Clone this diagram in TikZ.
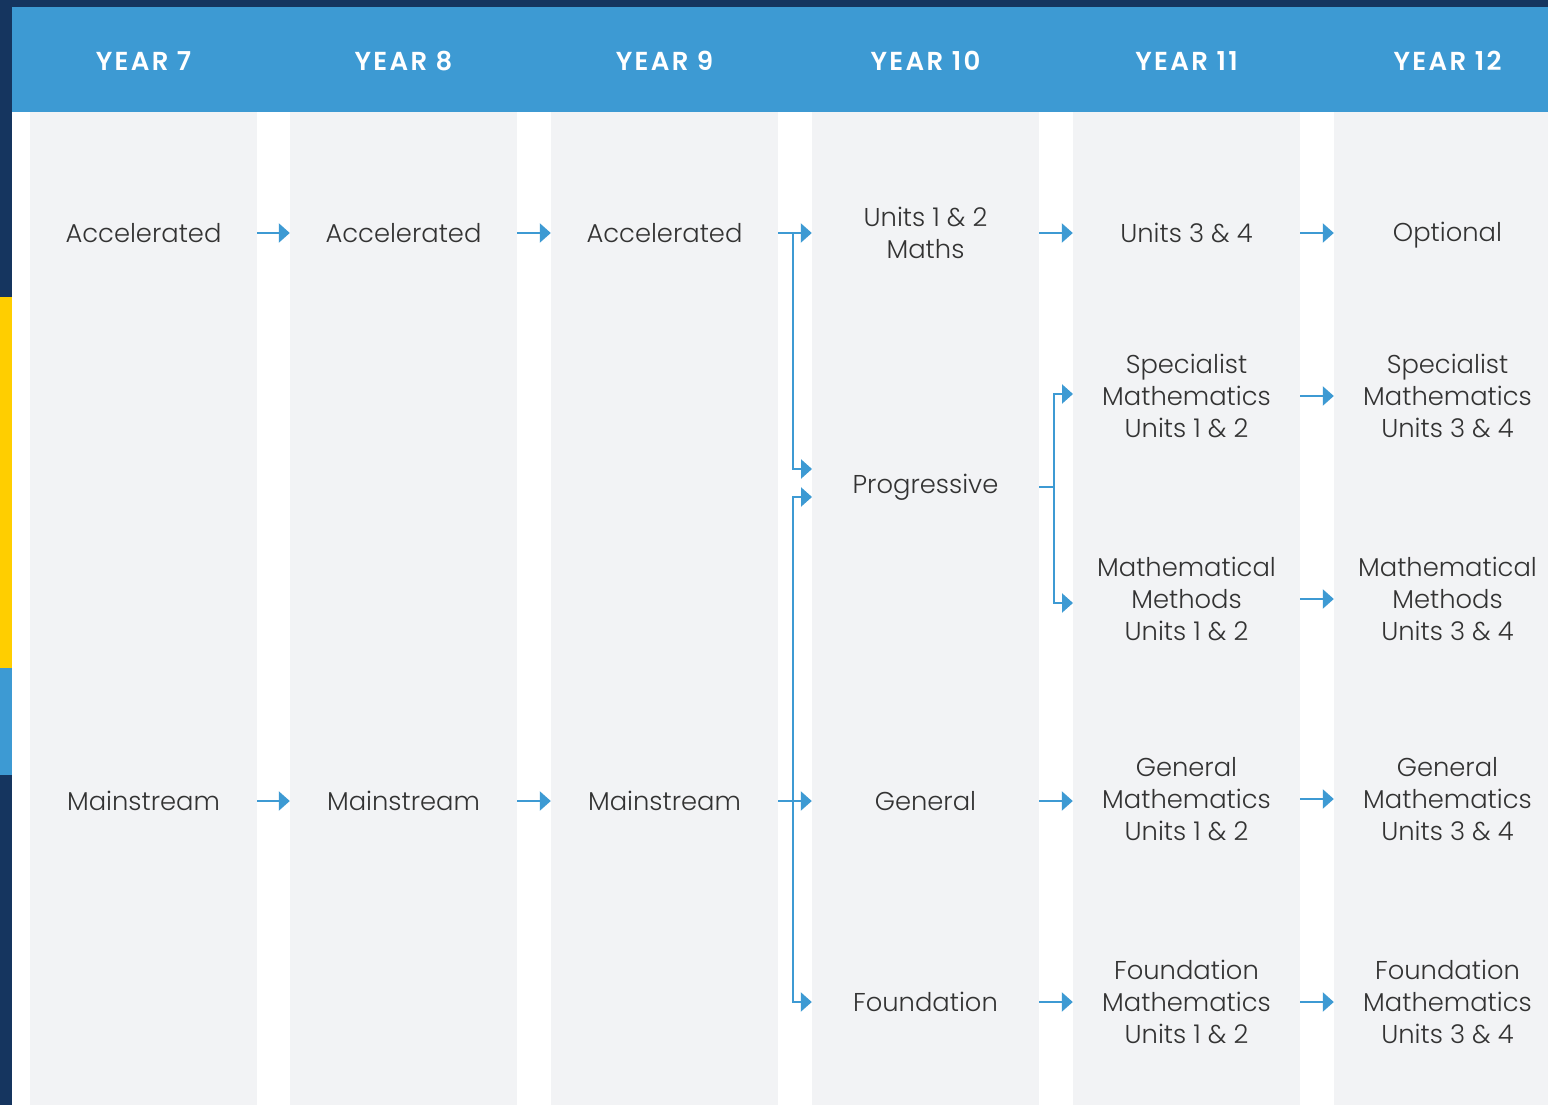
\documentclass[tikz,border=0pt]{standalone}
\usepackage{fontspec}
\setmainfont{Poppins}[UprightFont=*-Light,BoldFont=*-SemiBold]
\newfontfamily\headfont{Poppins}[UprightFont=*-SemiBold,LetterSpace=9]
\usetikzlibrary{arrows.meta}
\definecolor{navy}{HTML}{15355F}
\definecolor{skyblue}{HTML}{3D9AD3}
\definecolor{gold}{HTML}{FFCE00}
\definecolor{colgray}{HTML}{F2F3F5}
\definecolor{txtgray}{HTML}{333333}

\begin{document}
\begin{tikzpicture}[x=1pt,y=-1pt,
	col/.style={fill=colgray,minimum width=227pt,minimum height=993pt,inner sep=0pt,anchor=north},
	head/.style={text=white,font=\headfont\fontsize{26}{30}\selectfont},
	lbl/.style={text=txtgray,align=center,inner sep=0pt,font=\fontsize{25.8}{32}\selectfont},
	link/.style={draw=skyblue,line width=2.2pt},
	flow/.style={link,-{Triangle[length=11pt,width=19pt]}}]
	\useasboundingbox (0,0) rectangle (1548,1105);
	\clip (0,0) rectangle (1548,1105);

	\fill[white] (0,0) rectangle (1548,1105);
	\fill[navy] (0,0) rectangle (1548,7);
	\fill[navy] (0,0) rectangle (12,1105);
	\fill[gold] (0,297) rectangle (12,668);
	\fill[skyblue] (0,668) rectangle (12,775);
	\fill[skyblue] (12,7) rectangle (1548,112);

	\foreach \i/\x in {1/143.5,2/403.5,3/664.5,4/925.5,5/1186.5,6/1447.5}
		\node[col] (col\i) at (\x,112) {};
	\foreach \i/\x/\t in {1/143.5/7,2/403.5/8,3/664.5/9,4/925.5/10,5/1186.5/11,6/1447.5/12}
		\node[head] (year\i) at (\x,61) {YEAR \t};

	\node[lbl] (acc7) at (143.5,233) {Accelerated};
	\node[lbl] (acc8) at (403.5,233) {Accelerated};
	\node[lbl] (acc9) at (664.5,233) {Accelerated};
	\node[lbl] (main7) at (143.5,801) {Mainstream};
	\node[lbl] (main8) at (403.5,801) {Mainstream};
	\node[lbl] (main9) at (664.5,801) {Mainstream};

	\node[lbl] (unit10) at (925.5,233) {Units 1 \& 2\\Maths};
	\node[lbl] (prog10) at (925.5,487) {Progressive};
	\node[lbl] (gen10) at (925.5,801) {General};
	\node[lbl] (found10) at (925.5,1002) {Foundation};

	\node[lbl] (unit11) at (1186.5,233) {Units 3 \& 4};
	\node[lbl] (spec11) at (1186.5,396) {Specialist\\Mathematics\\Units 1 \& 2};
	\node[lbl] (meth11) at (1186.5,599) {Mathematical\\Methods\\Units 1 \& 2};
	\node[lbl] (gen11) at (1186.5,799) {General\\Mathematics\\Units 1 \& 2};
	\node[lbl] (found11) at (1186.5,1002) {Foundation\\Mathematics\\Units 1 \& 2};

	\node[lbl] (opt12) at (1447.5,235.5) {Optional};
	\node[lbl] (spec12) at (1447.5,396) {Specialist\\Mathematics\\Units 3 \& 4};
	\node[lbl] (meth12) at (1447.5,599) {Mathematical\\Methods\\Units 3 \& 4};
	\node[lbl] (gen12) at (1447.5,799) {General\\Mathematics\\Units 3 \& 4};
	\node[lbl] (found12) at (1447.5,1002) {Foundation\\Mathematics\\Units 3 \& 4};

	\coordinate (fork9) at (793,0);
	\coordinate (fork10) at (1054,0);
	\coordinate (prog10a) at (812,469);
	\coordinate (prog10b) at (812,497);
	\coordinate (spec11in) at (1073,394);
	\coordinate (meth11in) at (1073,603);

	\draw[flow] (col1.east |- acc7) -- (col2.west |- acc7);
	\draw[flow] (col2.east |- acc8) -- (col3.west |- acc8);
	\draw[flow] (col3.east |- acc9) -- (col4.west |- acc9);
	\draw[flow] (col4.east |- unit10) -- (col5.west |- unit10);
	\draw[flow] (col5.east |- unit11) -- (col6.west |- unit11);

	\draw[flow] (col1.east |- main7) -- (col2.west |- main7);
	\draw[flow] (col2.east |- main8) -- (col3.west |- main8);
	\draw[flow] (col3.east |- main9) -- (col4.west |- main9);
	\draw[flow] (col4.east |- gen10) -- (col5.west |- gen10);
	\draw[flow] (col4.east |- found10) -- (col5.west |- found10);

	\draw[flow] (fork9 |- acc9) |- (prog10a);
	\draw[flow] (fork9 |- main9) |- (prog10b);
	\draw[flow] (fork9 |- main9) |- (col4.west |- found10);

	\draw[link] (col4.east |- prog10) -- (fork10 |- prog10);
	\draw[flow] (fork10 |- prog10) |- (spec11in);
	\draw[flow] (fork10 |- prog10) |- (meth11in);

	\draw[flow] (col5.east |- spec11) -- (col6.west |- spec11);
	\draw[flow] (col5.east |- meth11) -- (col6.west |- meth11);
	\draw[flow] (col5.east |- gen11) -- (col6.west |- gen11);
	\draw[flow] (col5.east |- found11) -- (col6.west |- found11);
\end{tikzpicture}
\end{document}
